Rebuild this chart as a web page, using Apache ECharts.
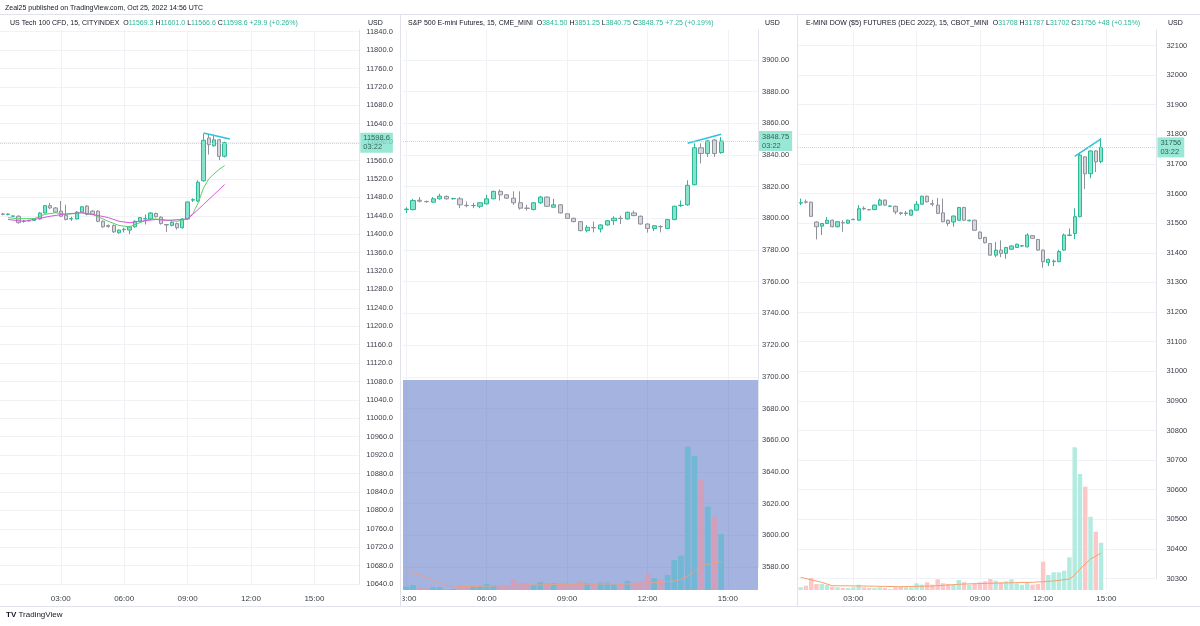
<!doctype html>
<html lang="en">
<head>
<meta charset="utf-8">
<script src="https://cdn.jsdelivr.net/npm/echarts/dist/echarts.min.js"></script>
<style>
    html, body { margin: 0; padding: 0; background: #fff; }
    #main { width: 1200px; height: 626px; }
</style>
</head>
<body>
<div id="main"></div>
<script type="text/javascript">
    var FONT = '"Liberation Sans", Arial, sans-serif';

    // 15 minute time slots for each pane
    function timeCats(start, count) {
        var p = start.split(':'), m = (+p[0]) * 60 + (+p[1]), out = [];
        for (var i = 0; i < count; i++, m += 15) {
            out.push(('0' + Math.floor(m / 60) % 24).slice(-2) + ':' + ('0' + m % 60).slice(-2));
        }
        return out;
    }
    var ndxTimes = timeCats('00:15', 68);
    var esTimes = timeCats('03:00', 53);
    var ymTimes = timeCats('00:30', 68);

    var publishLine = 'Zeal25 published on TradingView.com, Oct 25, 2022 14:56 UTC';
    var countdown = '03:22';
    // name, open, high, low, close, change
    var ndxHeader = ['US Tech 100 CFD, 15, CITYINDEX', '11569.3', '11601.0', '11566.6', '11598.6', '+29.9 (+0.26%)'];
    var esHeader = ['S&P 500 E-mini Futures, 15, CME_MINI', '3841.50', '3851.25', '3840.75', '3848.75', '+7.25 (+0.19%)'];
    var ymHeader = ['E-MINI DOW ($5) FUTURES (DEC 2022), 15, CBOT_MINI', '31708', '31787', '31702', '31756', '+48 (+0.15%)'];

    // candles: [open, close, low, high]
    var ndxCandles = [
        [11444, 11443, 11441, 11446], [11443, 11443.6, 11441, 11445], [11439, 11439.6, 11438, 11440.5],
        [11439, 11425, 11423, 11441], [11428, 11428.6, 11425, 11431], [11429, 11430, 11427, 11431],
        [11430, 11433.5, 11429, 11434], [11433, 11446, 11432, 11448], [11446, 11462, 11445, 11463],
        [11462, 11457, 11455, 11468], [11457, 11448, 11446, 11459], [11450, 11439, 11437, 11472],
        [11441, 11432, 11430, 11464], [11433, 11434, 11429, 11438], [11433, 11448, 11432, 11450],
        [11448, 11459.5, 11447, 11461], [11461, 11443, 11441, 11463], [11450, 11443, 11441, 11452],
        [11450, 11428, 11426, 11452], [11428, 11416, 11414, 11430], [11419, 11416.5, 11414, 11421],
        [11419, 11405, 11403, 11421], [11403, 11409, 11401, 11410], [11410, 11410.6, 11404, 11414],
        [11409, 11416, 11400, 11418], [11416, 11428, 11414, 11430], [11428, 11436, 11426, 11437],
        [11433, 11434, 11421, 11443], [11433, 11446, 11431, 11448], [11445, 11438, 11436, 11447],
        [11437, 11423, 11421, 11439], [11421, 11420, 11405, 11422], [11419, 11426, 11417, 11428],
        [11423, 11414, 11410, 11425], [11414, 11433, 11412, 11435], [11433, 11470, 11432, 11471],
        [11474, 11475, 11470, 11478], [11472, 11513, 11470, 11517], [11516, 11604, 11514, 11618],
        [11609, 11594.5, 11573, 11618], [11592, 11605, 11590, 11616], [11605, 11569, 11561, 11607],
        [11569.3, 11598.6, 11566.6, 11601.0]
    ];
    // moving averages: [slot, value]
    var ndxMaFast = [[1, 11436], [3, 11433.5], [6, 11434], [8, 11443], [10, 11446.5], [12, 11443], [15, 11446.5],
        [17, 11443], [20, 11428], [22, 11419], [24, 11416], [26, 11425], [28, 11433.5], [30, 11432], [33, 11428],
        [35, 11433], [36, 11445], [37, 11468], [38, 11500], [39, 11520], [40, 11531], [41, 11541], [42, 11549]];
    var ndxMaSlow = [[1, 11432], [4, 11428], [6, 11432], [9, 11439], [12, 11444], [15, 11446.5], [17, 11443],
        [20, 11436], [22, 11428], [24, 11425], [26, 11428], [29, 11432], [31, 11430], [34, 11432], [35, 11433.5],
        [36, 11443], [38, 11464.5], [40, 11486], [42, 11508]];
    var ndxTrend = [[38, 11620], [43, 11607]];

    var esCandles = [
        [3805.5, 3805.8, 3803.4, 3807], [3805.5, 3811.2, 3805, 3812.3], [3811.4, 3810.8, 3810, 3813.4],
        [3810.6, 3810.5, 3809.8, 3811.2], [3810.2, 3812.3, 3809.8, 3813.4], [3812.3, 3814, 3811.8, 3815.5],
        [3813.8, 3812.3, 3811.8, 3814.4], [3812.3, 3812.5, 3811.8, 3813], [3812.3, 3808.5, 3806.4, 3813.4],
        [3808.2, 3808, 3807, 3810.6], [3808, 3808.1, 3806.4, 3809.8], [3807.6, 3809.8, 3806.4, 3810.2],
        [3809.1, 3812.3, 3808.8, 3814.8], [3812.3, 3817, 3812, 3817.4], [3817, 3814.8, 3811.2, 3818.2],
        [3814.8, 3812.7, 3812.3, 3815.2], [3812.7, 3809.8, 3808.5, 3817], [3809.8, 3806.4, 3805.5, 3817],
        [3806.4, 3806.3, 3804.9, 3808.5], [3805.5, 3809.8, 3805, 3810.2], [3809.8, 3813.4, 3809, 3814],
        [3813.4, 3807.6, 3807.2, 3813.8], [3807, 3808.5, 3806.8, 3812.3], [3808.5, 3803.4, 3803, 3809],
        [3802.8, 3800, 3799.6, 3803.2], [3800, 3797.9, 3797.5, 3800.4], [3797.9, 3792.2, 3791.8, 3798.3],
        [3792.2, 3794.3, 3791.1, 3795.8], [3794.2, 3794, 3791.1, 3797.9], [3793.2, 3795.8, 3791.1, 3796.2],
        [3795.8, 3798.5, 3795.4, 3798.9], [3798.5, 3800, 3795.8, 3801.3], [3800, 3799.9, 3796.4, 3801.7],
        [3799.6, 3803.8, 3799.2, 3804.2], [3803.4, 3801.7, 3801.3, 3804.9], [3801.3, 3796.4, 3796, 3801.7],
        [3796.4, 3793.6, 3791, 3796.8], [3793.6, 3795.3, 3792, 3795.7], [3794.8, 3794.7, 3791.1, 3795.6],
        [3793.6, 3799.2, 3793.2, 3799.6], [3799.2, 3807.6, 3798.8, 3808], [3808, 3808.2, 3807.2, 3811.2],
        [3808.5, 3820.8, 3808, 3824], [3821.2, 3844.5, 3820.8, 3847.3], [3844.5, 3840.9, 3834.6, 3847.3],
        [3840.9, 3848.8, 3838.8, 3849.4], [3849.4, 3840.9, 3838.8, 3850], [3841.5, 3848.75, 3840.75, 3851.25]
    ];
    var esTrend = [[42, 3847.3], [47, 3853]];
    var esVolume = [330, 500, 270, 170, 270, 270, 100, 100, 430, 400, 330, 400, 600, 430, 500, 500,
        1070, 670, 670, 500, 770, 670, 670, 670, 670, 570, 900, 670, 600, 730, 730, 600,
        600, 900, 730, 800, 1570, 1170, 1100, 1500, 3000, 3430, 14330, 13400, 11000, 8330, 7330, 5600];
    var esVolMa = [[0, 1900], [2, 1500], [4, 1000], [6, 450], [9, 330], [14, 430], [19, 500], [24, 570],
        [29, 600], [34, 600], [37, 730], [40, 900], [41, 1070], [42, 1400], [43, 1900], [44, 2400], [46, 2750], [47, 2830]];

    var ymCandles = [
        [31568, 31569, 31561, 31583], [31572, 31571, 31566, 31580], [31571, 31523, 31521, 31573],
        [31504, 31488, 31445, 31506], [31490, 31499, 31460, 31501], [31499, 31510, 31497, 31521],
        [31510, 31488, 31486, 31512], [31488, 31505, 31486, 31507], [31502, 31501, 31471, 31510],
        [31500, 31510, 31498, 31512], [31512, 31513, 31510, 31515], [31510, 31549, 31508, 31561],
        [31550, 31548, 31544, 31557], [31546, 31545, 31543, 31548], [31546, 31561, 31544, 31563],
        [31561, 31578, 31559, 31583], [31578, 31561, 31559, 31580], [31557, 31558, 31555, 31560],
        [31557, 31538, 31530, 31559], [31535, 31533, 31527, 31538], [31533, 31534, 31525, 31541],
        [31527, 31544, 31525, 31546], [31544, 31564, 31542, 31575], [31564, 31591, 31562, 31593],
        [31591, 31572, 31570, 31593], [31566, 31564, 31557, 31579], [31561, 31533, 31531, 31585],
        [31535, 31505, 31503, 31583], [31510, 31499, 31490, 31512], [31504, 31524, 31488, 31526],
        [31510, 31553, 31508, 31555], [31553, 31510, 31508, 31555], [31508, 31510, 31506, 31512],
        [31510, 31476, 31474, 31512], [31470, 31448, 31446, 31472], [31452, 31434, 31432, 31454],
        [31431, 31392, 31390, 31433], [31392, 31409, 31385, 31436], [31409, 31398, 31385, 31442],
        [31398, 31418, 31380, 31420], [31412, 31423, 31410, 31425], [31418, 31429, 31416, 31431],
        [31423, 31424, 31420, 31426], [31420, 31460, 31418, 31466], [31458, 31449, 31447, 31460],
        [31445, 31409, 31407, 31447], [31409, 31370, 31350, 31411], [31367, 31378, 31355, 31380],
        [31370, 31372, 31355, 31377], [31370, 31404, 31368, 31410], [31409, 31460, 31407, 31465],
        [31459, 31460, 31456, 31482], [31465, 31522, 31446, 31550], [31522, 31730, 31520, 31738],
        [31724, 31667, 31615, 31726], [31667, 31744, 31652, 31746], [31744, 31707, 31673, 31746],
        [31708, 31756, 31702, 31787]
    ];
    var ymTrend = [[52, 31726], [57, 31785]];
    var ymVolume = [270, 430, 1200, 600, 600, 530, 330, 270, 200, 200, 270, 530, 270, 200, 200, 270,
        200, 100, 270, 330, 270, 270, 670, 530, 770, 530, 1070, 670, 600, 530, 1000, 770,
        530, 670, 770, 870, 1100, 930, 770, 870, 1070, 670, 530, 770, 530, 600, 2830, 1500,
        1770, 1770, 1930, 3270, 14270, 11600, 10330, 7330, 5830, 4730];
    var ymVolMa = [[0, 1270], [4, 770], [6, 430], [12, 400], [19, 330], [25, 400], [31, 600], [38, 700],
        [44, 770], [48, 900], [51, 1100], [52, 1500], [53, 2100], [54, 2600], [55, 3100], [56, 3400], [57, 3670]];

    var UP_FILL = '#86e3cd', UP_LINE = '#2db795', DN_FILL = '#d6d7dd', DN_LINE = '#8f919b';
    var GRID_LINE = '#f0f2f6', TEXT = '#3b3e48', GREEN_TXT = '#2bb596';

    function isMajor(idx, val) {
        return /^(03|06|09|12|15):00$/.test(val);
    }
    function timeAxis(grid, cats, showLabel, margin) {
        return {
            type: 'category', gridIndex: grid, data: cats, boundaryGap: true,
            axisLine: {show: false}, axisTick: {show: false},
            axisLabel: {show: showLabel, interval: isMajor, margin: margin, color: TEXT, fontSize: 8, fontFamily: FONT},
            splitLine: {show: true, interval: isMajor, alignWithLabel: true, lineStyle: {color: GRID_LINE}}
        };
    }
    function priceAxis(grid, min, max, step, digits, margin) {
        return {
            type: 'value', gridIndex: grid, position: 'right', min: min, max: max, interval: step,
            axisLine: {show: true, lineStyle: {color: '#e3e5ec'}}, axisTick: {show: false},
            axisLabel: {margin: margin, color: TEXT, fontSize: 7.5, fontFamily: FONT, showMaxLabel: false,
                formatter: function (v) { return v.toFixed(digits); }},
            splitLine: {show: true, showMaxLine: false, lineStyle: {color: GRID_LINE}}
        };
    }
    function volAxis(grid, max) {
        return {type: 'value', gridIndex: grid, min: 0, max: max, show: false, splitLine: {show: false}};
    }
    function header(h) {
        return '{n|' + h[0] + '}  {k|O}{v|' + h[1] + '} {k|H}{v|' + h[2] + '} {k|L}{v|' + h[3] +
            '} {k|C}{v|' + h[4] + '} {v|' + h[5] + '}';
    }
    var headStyle = {
        fontSize: 7, fontFamily: FONT, fontWeight: 'normal', color: '#131722',
        rich: {
            n: {fontSize: 7, fontFamily: FONT, color: '#131722'},
            k: {fontSize: 7, fontFamily: FONT, color: '#131722'},
            v: {fontSize: 7, fontFamily: FONT, color: GREEN_TXT}
        }
    };
    function smallText(txt, x, y, size) {
        return {text: txt, left: x, top: y, padding: 0,
            textStyle: {fontSize: size, fontFamily: FONT, fontWeight: 'normal', color: '#131722'}};
    }
    function candles(x, data, digits) {
        var last = data[data.length - 1][1];
        return {
            type: 'candlestick', xAxisIndex: x, yAxisIndex: x, data: data, barWidth: '70%',
            itemStyle: {color: UP_FILL, color0: DN_FILL, borderColor: UP_LINE, borderColor0: DN_LINE, borderWidth: 1},
            markLine: {
                symbol: 'none', silent: true, animation: false,
                lineStyle: {color: '#8fe3d1', width: 1, type: 'dotted', opacity: 0.8},
                label: {
                    position: 'end', distance: 1, fontSize: 7.5, fontFamily: FONT, lineHeight: 9,
                    color: '#0f3d35', backgroundColor: '#80e1cb', padding: [1, 3, 1, 3], align: 'left',
                    formatter: function (p) { return p.value.toFixed(digits) + '\n' + countdown; }
                },
                data: [{yAxis: last}]
            }
        };
    }
    function pointLine(x, y, data, color, width) {
        return {type: 'line', xAxisIndex: x, yAxisIndex: y, data: data, symbol: 'none', silent: true,
            lineStyle: {color: color, width: width}, z: 3};
    }
    function volBars(x, data, ohlc, up, down) {
        return {
            type: 'bar', xAxisIndex: x, yAxisIndex: x, data: data, barWidth: '84%',
            itemStyle: {color: function (p) {
                var c = ohlc[p.dataIndex];
                return c[1] >= c[0] ? up : down;
            }}
        };
    }

    var myChart = echarts.init(document.getElementById('main'));
    myChart.setOption({
        animation: false,
        backgroundColor: '#ffffff',
        title: [
            smallText(publishLine, 5, 5, 7),
            {text: header(ndxHeader), left: 10, top: 20, padding: 0, textStyle: headStyle},
            {text: header(esHeader), left: 408, top: 20, padding: 0, textStyle: headStyle},
            {text: header(ymHeader), left: 806, top: 20, padding: 0, textStyle: headStyle},
            smallText('USD', 368, 20, 7),
            smallText('USD', 765, 20, 7),
            smallText('USD', 1168, 20, 7),
            {text: '{b|TV} TradingView', left: 6, top: 611, padding: 0,
                textStyle: {fontSize: 8, fontFamily: FONT, fontWeight: 'normal', color: '#131722',
                    rich: {b: {fontSize: 8, fontFamily: FONT, fontWeight: 'bold', color: '#131722'}}}}
        ],
        grid: [
            {left: -1.8, top: 30, width: 361.1, height: 554},
            {left: 403, top: 30, width: 355, height: 537},
            {left: 403, top: 380, width: 355, height: 210},
            {left: 798, top: 30, width: 358.4, height: 548.5},
            {left: 798, top: 430, width: 358.4, height: 160}
        ],
        xAxis: [
            timeAxis(0, ndxTimes, true, 11),
            timeAxis(1, esTimes, false, 0),
            timeAxis(2, esTimes, true, 5),
            timeAxis(3, ymTimes, false, 0),
            timeAxis(4, ymTimes, true, 5)
        ],
        yAxis: [
            priceAxis(0, 10640, 11843.6, 40, 1, 7),
            priceAxis(1, 3580, 3918.8, 20, 2, 4),
            volAxis(2, 21000),
            priceAxis(3, 30300, 32152.4, 100, 0, 10),
            volAxis(4, 16000)
        ],
        graphic: [
            // highlighted box over the S&P volume pane (above grid lines, below bars)
            {type: 'rect', z: 1, shape: {x: 403, y: 380, width: 355, height: 210}, style: {fill: 'rgba(80,110,195,0.52)'}},
            // clip the first S&P time label like the original
            {type: 'rect', z: 4, shape: {x: 385, y: 593, width: 17.5, height: 13}, style: {fill: '#ffffff'}},
            // pane separators
            {type: 'line', z: 5, shape: {x1: 400.5, y1: 14, x2: 400.5, y2: 606}, style: {stroke: '#e0e3eb', lineWidth: 1}},
            {type: 'line', z: 5, shape: {x1: 797.5, y1: 14, x2: 797.5, y2: 606}, style: {stroke: '#e0e3eb', lineWidth: 1}},
            {type: 'line', z: 5, shape: {x1: 0, y1: 14.5, x2: 1200, y2: 14.5}, style: {stroke: '#e0e3eb', lineWidth: 1}},
            {type: 'line', z: 5, shape: {x1: 0, y1: 606.5, x2: 1200, y2: 606.5}, style: {stroke: '#e0e3eb', lineWidth: 1}}
        ],
        series: [
            candles(0, ndxCandles, 1),
            pointLine(0, 0, ndxMaFast, '#55d366', 1),
            pointLine(0, 0, ndxMaSlow, '#e24fe0', 1),
            pointLine(0, 0, ndxTrend, '#2cc4da', 1.5),
            candles(1, esCandles, 2),
            pointLine(1, 1, esTrend, '#2cc4da', 1.5),
            volBars(2, esVolume, esCandles, '#72b7d5', '#d09fbb'),
            pointLine(2, 2, esVolMa, '#e7a27e', 1),
            candles(3, ymCandles, 0),
            pointLine(3, 3, ymTrend, '#2cc4da', 1.5),
            volBars(4, ymVolume, ymCandles, '#b3ebe1', '#fcc7c7'),
            pointLine(4, 4, ymVolMa, '#f5a36f', 1)
        ]
    });
</script>
</body>
</html>
